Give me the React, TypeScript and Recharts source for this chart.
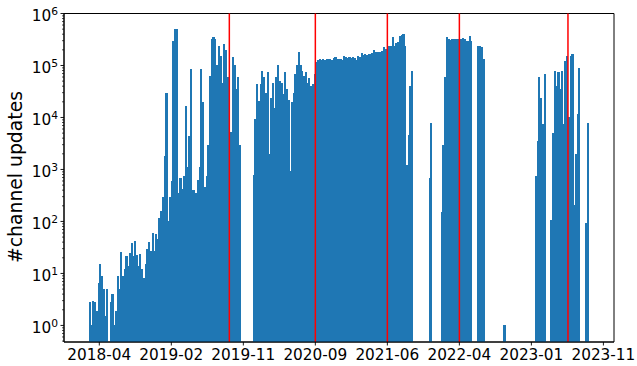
import { BarChart, Bar, XAxis, YAxis, ReferenceLine, ReferenceArea } from "recharts";

// histogram of channel updates, weekly bins (unix seconds)
const binStart = 1521424000;
const binSeconds = 604800;

const weeklyUpdates: (number | null)[] = [
  2.8, 1, 3, 2.8, 1.9, 6.5, 15, 9, 5, 1.5,
  5, null, 2.8, 4, 1, 1.9, 9, 5, 26, 9,
  12, 22, 14, 25, 38, 22, 42, 23, 14, 24,
  12, 8, 15, 30, 40, 27, 60, 27, 58, 46,
  117, 160, 300, 1800, 30000, 100, 300, 600, 300000, 510000,
  500000, 350, 700, 430, 750, 16500, 1100, 4400, 85000, 400,
  400, 360, 640, 1100, 85000, 19500, 470, 750, 3000, 63000,
  330000, 355000, 330000, 100000, 240000, 155000, 47000, 260000, 200000, 60000,
  20000, 5200, 145000, 100000, 35000, 60000, 3000, null, null, null,
  null, null, null, null, 800, 9300, 45000, 21000, 44000, 79000,
  60000, 30000, 75000, 2000, 24000, 47000, 15500, 60000, 100000, 51000,
  47000, 28000, 75000, 35000, 22000, 920, 20000, 30000, 69000, 100000,
  180000, 100000, 79000, 63000, 75000, 47000, 57000, 40000, 44000, 69000,
  115000, 127000, 132000, 128000, 133000, 130000, 135000, 131000, 136000, 130000,
  138000, 145000, 134000, 132000, 134000, 126000, 150000, 145000, 140000, 145000,
  138000, 145000, 142000, 126000, 150000, 148000, 173000, 160000, 165000, 162000,
  170000, 165000, 172000, 195000, 180000, 183000, 178000, 185000, 190000, 225000,
  210000, 225000, 240000, 235000, 355000, 240000, 265000, 280000, 365000, 380000,
  400000, 240000, 1240, 4700, 40000, 79000, null, null, null, null,
  null, null, null, null, null, 700, 7900, null, null, null,
  null, null, 155, 3000, 60000, 355000, 320000, 310000, 330000, 320000,
  330000, 325000, 330000, 320000, 335000, 330000, 290000, 290000, 370000, 300000,
  null, null, null, 235000, 240000, 230000, 134000, null, null, null,
  null, null, null, null, null, null, null, null, 1, null,
  null, null, null, null, null, null, null, null, null, null,
  null, null, null, null, null, null, 740, 3500, 60000, 24000,
  7400, 69000, null, null, null, 107, 5000, 79000, 40000, 75000,
  35000, 79000, 7400, 120000, 155000, 10000, 155000, 165000, 210, 1950,
  11500, 91000, null, null, null, 94, 7900,
];

const xTicks = [
  1525000000, 1550000000, 1575000000, 1600000000,
  1625000000, 1650000000, 1675000000, 1700000000,
];
const yMajorTicks = [1, 10, 100, 1000, 10000, 100000, 1000000];
const yMinorSteps = [2, 3, 4, 5, 6, 7, 8, 9];
// red markers
const snapshotTimes = [1570140000, 1600000000, 1625000000, 1650000000, 1687700000];

const W = 637;
const H = 366;
const PLOT_LEFT = 64;
const PLOT_RIGHT = 614;
const PLOT_TOP = 13.5;
const PLOT_BOTTOM = 342;
const Y_MIN = 0.48;
const Y_MAX = 1e6;
const FONT = "DejaVu Sans";

const binEnd = binStart + weeklyUpdates.length * binSeconds;
const pad = 0.05 * (binEnd - binStart);
const xDomain = [binStart - pad, binEnd + pad];
const BIN_PX = (binSeconds * (PLOT_RIGHT - PLOT_LEFT)) / (xDomain[1] - xDomain[0]);

const data = weeklyUpdates.map((v, i) => ({
  t: binStart + (i + 0.5) * binSeconds,
  v,
}));

const yMinor = [0.1, 1, 10, 100, 1000, 10000, 100000]
  .flatMap((d) => yMinorSteps.map((s) => s * d))
  .filter((v) => v >= Y_MIN && v < Y_MAX);
const yTicks = [...yMajorTicks, ...yMinor].sort((a, b) => a - b);

const fmtMonth = (t: number) => {
  const d = new Date(t * 1000);
  return `${d.getUTCFullYear()}-${String(d.getUTCMonth() + 1).padStart(2, "0")}`;
};

const XTick = ({ x, payload }: any) => (
  <g>
    <line x1={x} x2={x} y1={PLOT_BOTTOM} y2={PLOT_BOTTOM + 3.5} stroke="#000" strokeWidth={0.9} />
    <text x={x} y={PLOT_BOTTOM + 17.7} textAnchor="middle" fontSize={15.3} fontFamily={FONT} fill="#000">
      {fmtMonth(payload.value)}
    </text>
  </g>
);

const YTick = ({ y, payload }: any) => {
  const v = payload.value;
  const exp = Math.round(Math.log10(v));
  const major = Math.abs(v - Math.pow(10, exp)) < 1e-9 * v;
  return (
    <g>
      <line
        x1={PLOT_LEFT - (major ? 3.5 : 2)}
        x2={PLOT_LEFT}
        y1={y}
        y2={y}
        stroke="#000"
        strokeWidth={major ? 0.9 : 0.7}
      />
      {major && (
        <text x={PLOT_LEFT - 6} y={y + 7.6} textAnchor="end" fontSize={15.3} fontFamily={FONT} fill="#000">
          10
          <tspan dy={-6} fontSize={10.7}>
            {exp}
          </tspan>
        </text>
      )}
    </g>
  );
};

const YLabel = () => (
  <text
    x={21.7}
    y={177}
    transform="rotate(-90, 21.7, 177)"
    textAnchor="middle"
    fontSize={18.8}
    fontFamily={FONT}
    fill="#000"
  >
    #channel updates
  </text>
);

const HistBar = (p: any) => {
  if (p.payload?.v == null || !Number.isFinite(p.y) || !Number.isFinite(p.height)) return <g />;
  return (
    <rect
      x={p.x - 0.2}
      y={p.y}
      width={BIN_PX + 0.4}
      height={p.height}
      fill="#1f77b4"
      shapeRendering="crispEdges"
    />
  );
};

export default function App() {
  return (
    <div style={{ position: "absolute", left: 0, top: 0, width: W, height: H, background: "#fff" }}>
      <BarChart
        width={W}
        height={H}
        data={data}
        margin={{ top: PLOT_TOP, right: W - PLOT_RIGHT, bottom: 0, left: 0 }}
        barGap={0}
        barCategoryGap={0}
      >
        <XAxis
          dataKey="t"
          type="number"
          domain={xDomain}
          allowDataOverflow
          ticks={xTicks}
          interval={0}
          height={H - PLOT_BOTTOM}
          tick={(p: any) => <XTick {...p} />}
          tickLine={false}
          axisLine={{ stroke: "#000", strokeWidth: 1 }}
        />
        <YAxis
          type="number"
          scale="log"
          domain={[Y_MIN, Y_MAX]}
          allowDataOverflow
          ticks={yTicks}
          interval={0}
          width={PLOT_LEFT}
          tick={(p: any) => <YTick {...p} />}
          tickLine={false}
          axisLine={{ stroke: "#000", strokeWidth: 1 }}
          label={<YLabel />}
        />
        <Bar dataKey="v" barSize={1} shape={HistBar} isAnimationActive={false} />
        {snapshotTimes.map((t) => (
          <ReferenceLine key={t} x={t} stroke="#ff0000" strokeWidth={1.5} ifOverflow="extendDomain" />
        ))}
        <ReferenceArea
          x1={xDomain[0]}
          x2={xDomain[1]}
          y1={Y_MIN}
          y2={Y_MAX}
          fill="none"
          fillOpacity={0}
          stroke="#000"
          strokeWidth={1}
          ifOverflow="visible"
        />
      </BarChart>
    </div>
  );
}
